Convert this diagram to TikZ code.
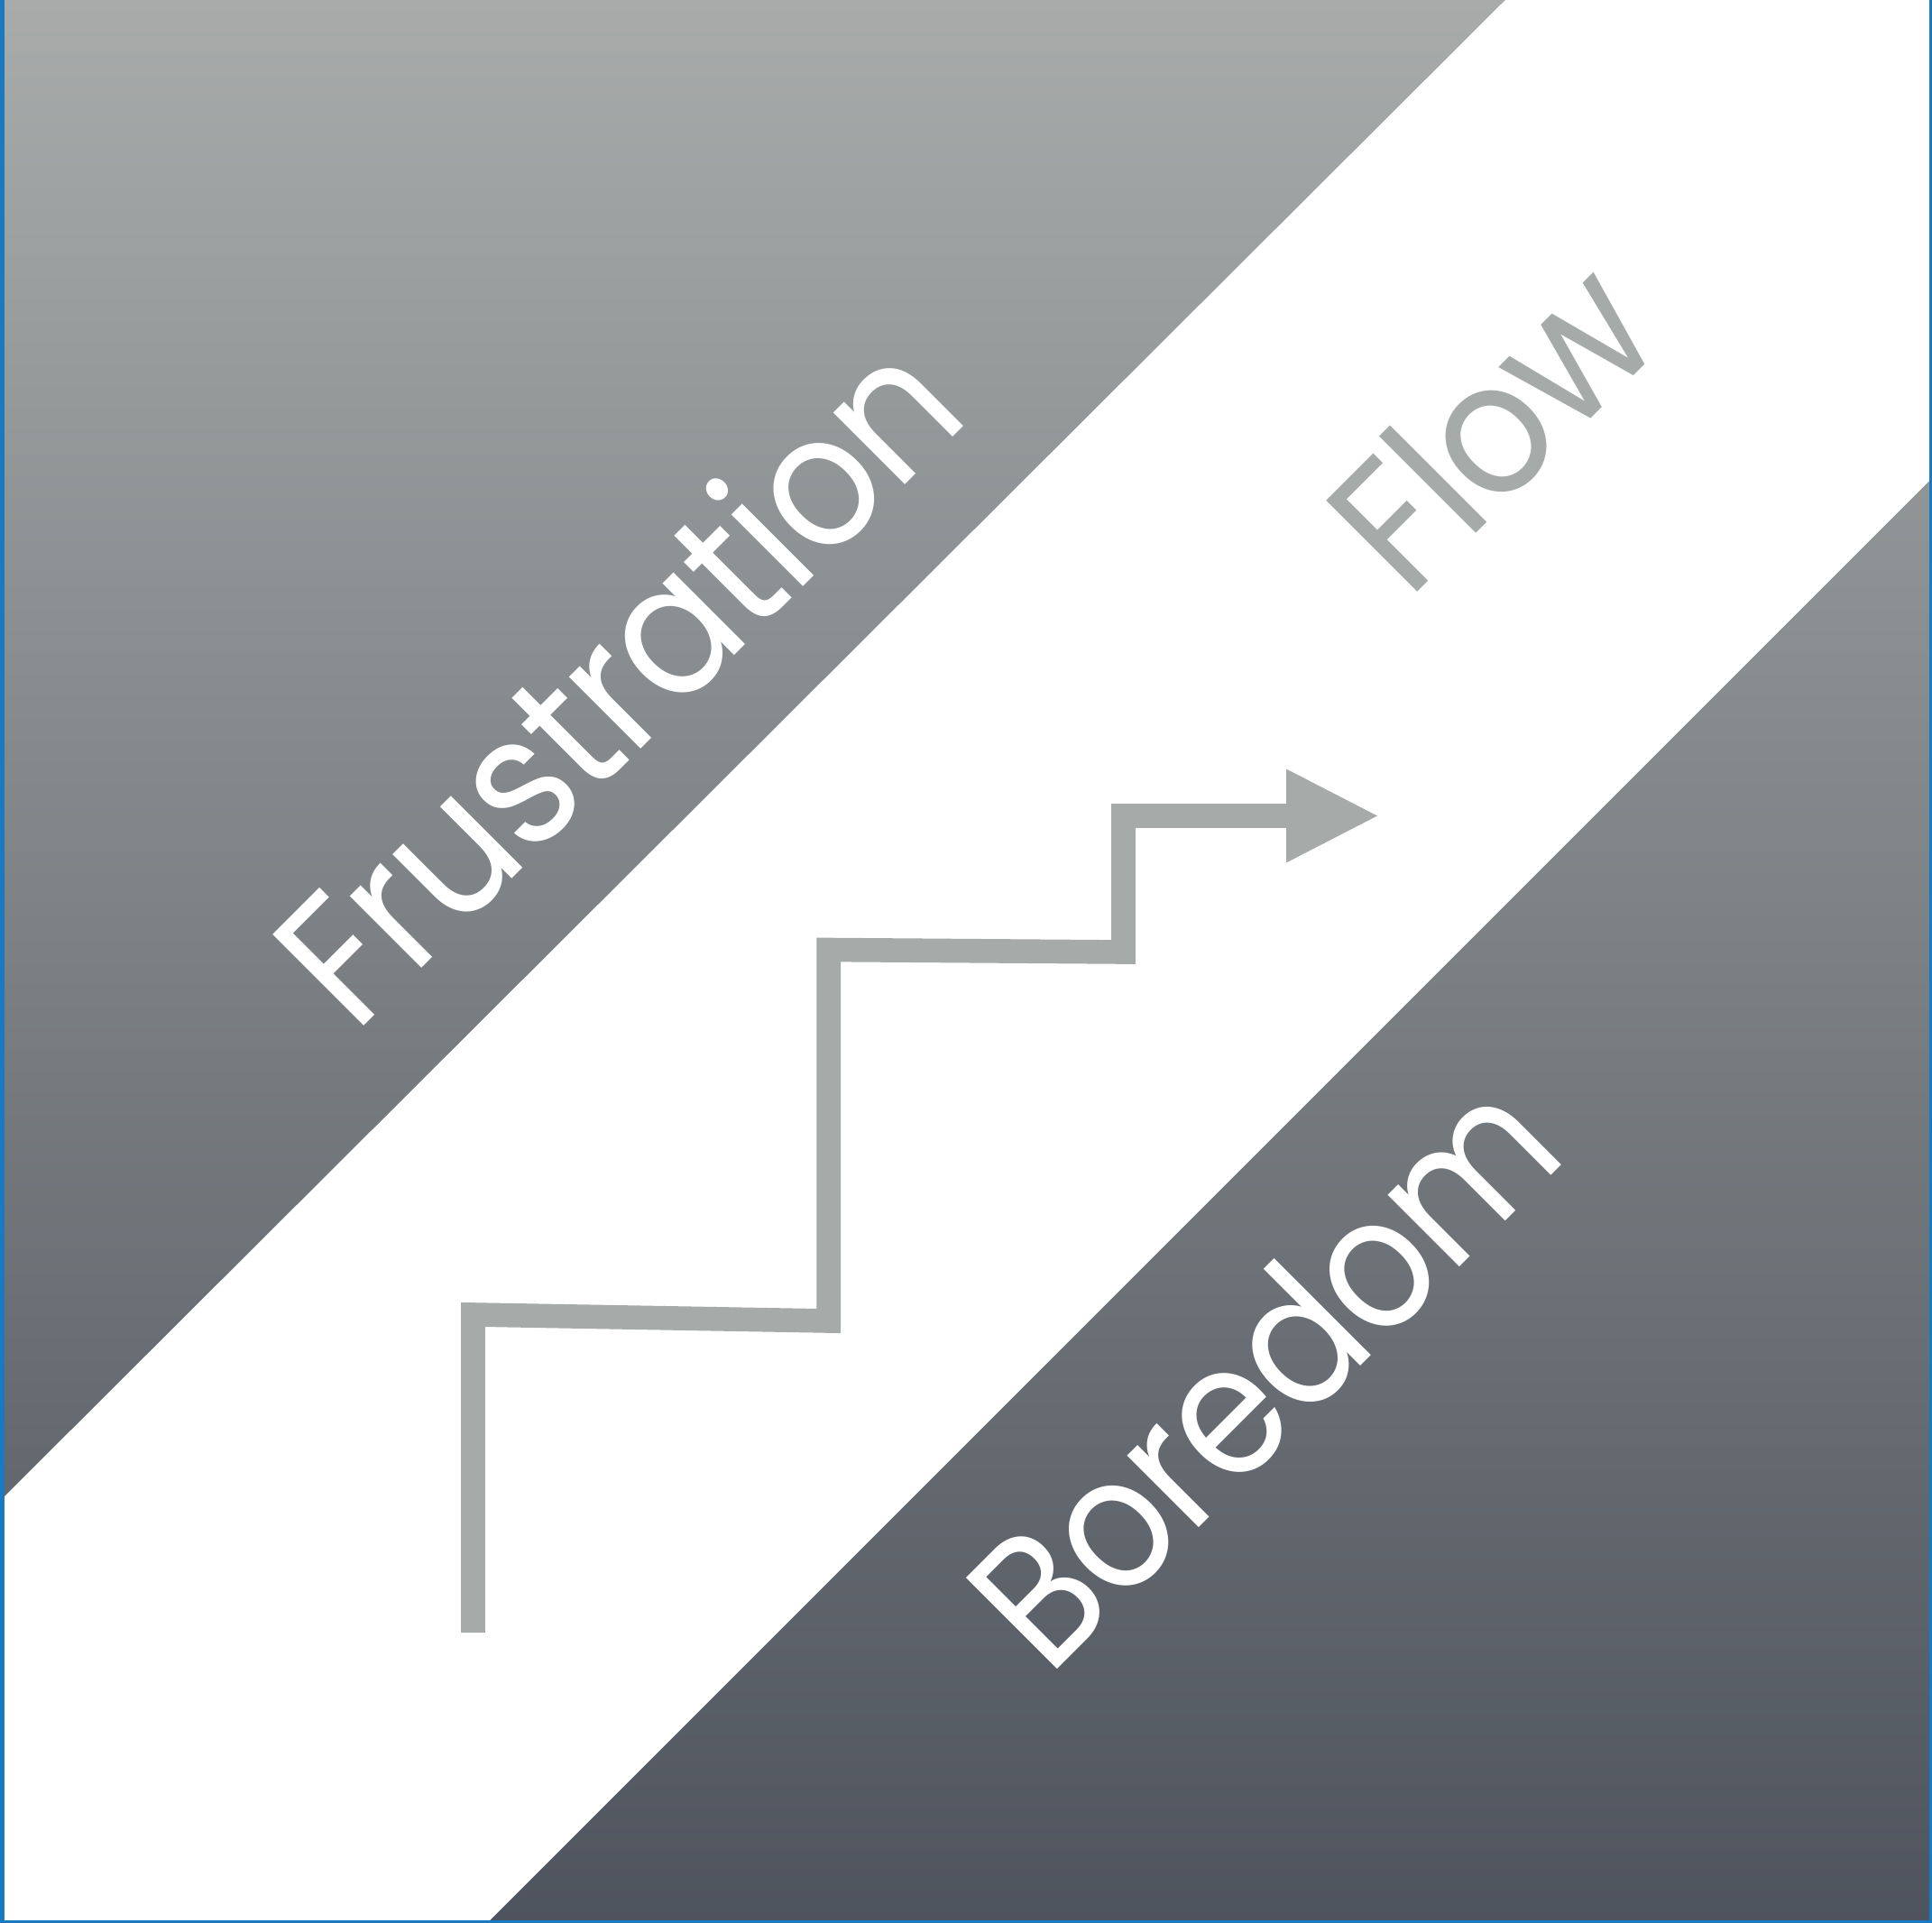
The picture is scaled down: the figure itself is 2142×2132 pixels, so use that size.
\documentclass[tikz,border=0pt]{standalone}
\usepackage{fontspec}
\setmainfont{Poppins}
\newfontfamily\labelfont[LetterSpace=-1.5]{Poppins}
\definecolor{shadetop}{HTML}{A8ABAA}
\definecolor{shadebot}{HTML}{4E545D}
\definecolor{stairgray}{HTML}{A6AAA9}
\definecolor{edgeblue}{HTML}{1A7AC1}
\tikzset{
  label text/.style={inner sep=0pt, anchor=base west, rotate=45,
    font=\labelfont\fontsize{205}{240}\selectfont},
  stair/.style={draw=stairgray, line width=26.6pt, miter limit=10, line join=miter},
}
% narrow a word along its own baseline
\newcommand{\narrowword}[2]{\scalebox{#1}[1]{#2}}
\begin{document}
\begin{tikzpicture}[x=1pt,y=-1pt]
  % canvas with vertical gradient
  \shade[top color=shadetop, bottom color=shadebot] (0,0) rectangle (2142,2132);
  \useasboundingbox (0,0) rectangle (2142,2132);
  % white diagonal band
  \fill[white] (1669,0) -- (2142,0) -- (2142,530) -- (540,2132) -- (0,2132) -- (0,1664) -- cycle;
  % frame edges
  \fill[edgeblue] (0,0) rectangle (5,2132);
  \fill[edgeblue] (2139,0) rectangle (2142,2132);
  \fill[edgeblue] (0,2129) rectangle (2142,2132);

  % staircase path
  \coordinate (s0) at (524.5,1810);
  \coordinate (s1) at (524.5,1457.5);
  \coordinate (s2) at (918.7,1464.5);
  \coordinate (s3) at (918.7,1053);
  \coordinate (s4) at (1245.5,1055.5);
  \coordinate (s5) at (1245.5,904.5);
  \coordinate (s6) at (1426,904.5);
  \coordinate (tip) at (1527,904.5);
  \draw[stair] (s0) -- (s1) -- (s2) -- (s3) -- (s4) -- (s5) -- (s6);
  \fill[stairgray] (1426,852.5) -- (tip) -- (1426,956.5) -- cycle;

  % zone labels
  \node[label text, text=white] (frus) at (393,1148) {\narrowword{0.91}{Frustration}};
  \node[label text, text=white] (bore) at (1162.5,1860.5) {\narrowword{0.885}{Boredom}};
  \node[label text, text=stairgray] (flow) at (1561,667) {\narrowword{0.915}{Flow}};
\end{tikzpicture}
\end{document}
